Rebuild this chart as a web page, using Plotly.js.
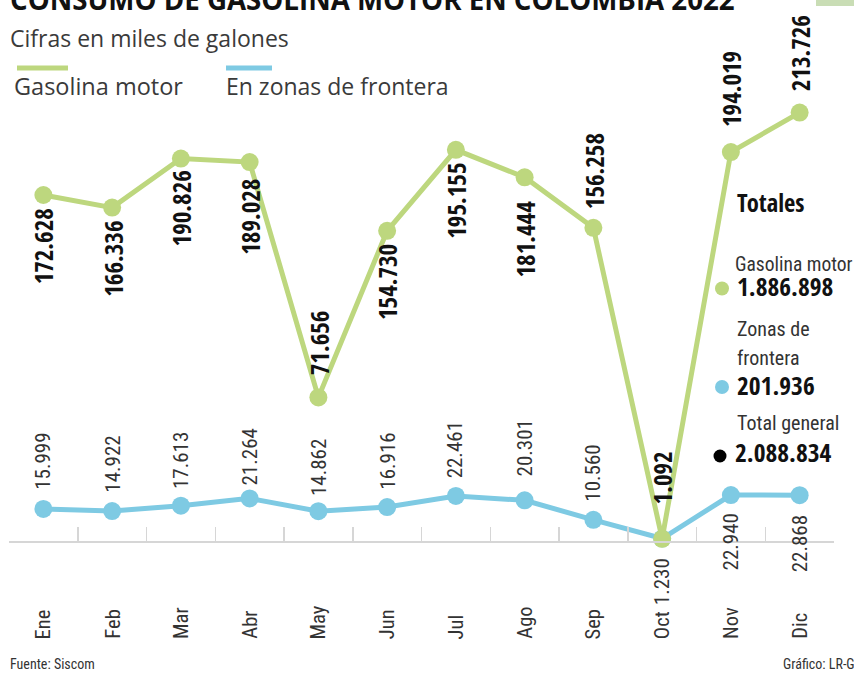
<!DOCTYPE html>
<html>
<head>
<meta charset="utf-8">
<script src="https://cdn.plot.ly/plotly-3.0.1.min.js"></script>
<style>
html,body{margin:0;padding:0;background:#fff;}
</style>
</head>
<body>
<div id="chart" style="width:854px;height:673px"></div>
<script>
// ---------- DATA ----------
const months = ['Ene','Feb','Mar','Abr','May','Jun','Jul','Ago','Sep','Oct','Nov','Dic'];
const gasolinaMotor = [172.628,166.336,190.826,189.028,71.656,154.730,195.155,181.444,156.258,1.092,194.019,213.726];
const zonasFrontera = [15.999,14.922,17.613,21.264,14.862,16.916,22.461,20.301,10.560,1.230,22.940,22.868];
const seriesNames = ['Gasolina motor','En zonas de frontera'];

// ---------- LABEL PLACEMENT (not data) ----------
const greenSide = ['below','below','below','below','above','below','below','below','above','above','above','above'];
const greenGap  = [11,11,10,15,20,11,11,21,17,32,23,19];
const blueSide  = ['above','above','above','above','above','above','above','above','above','below','below','below'];
const blueGap   = [17,16,15,11,13,15,16,22,16,18,16,18];

// ---------- STYLE ----------
const GREEN = '#bdd77e';
const BLUE = '#7ecae3';
const SANS = '"Open Sans", sans-serif';
const CONDB = '"Open Sans Condensed", "Roboto Condensed", sans-serif';
const CONDR = '"Roboto Condensed", "Open Sans Condensed Light", sans-serif';
const W = 854, H = 673, ML = 9, MR = 20, MT = 80, MB = 132;
const PW = W - ML - MR, PH = H - MT - MB;
const px = x => (x - ML) / PW;
const py = y => (H - MB - y) / PH;

function fmtThousands(v) {
  const n = Math.round(v * 1000);
  return n.toString().replace(/\B(?=(\d{3})+(?!\d))/g, '.');
}
const sum = a => a.reduce((s, v) => s + v, 0);
const totalGas = sum(gasolinaMotor), totalFront = sum(zonasFrontera);

const annotations = [];
function textAt(text, x, baseline, size, opts = {}) {
  const family = opts.family || CONDR;
  const desc = family === CONDR ? 0.244 : 0.293;
  annotations.push({
    text: text, xref: 'paper', yref: 'paper', x: px(x), y: py(baseline + desc * size + 1),
    xanchor: 'left', yanchor: 'bottom', showarrow: false, align: 'left',
    font: {family: family, size: size, color: opts.color || '#333', weight: opts.weight || 'normal'}
  });
}

// green value labels
gasolinaMotor.forEach((v, i) => {
  const below = greenSide[i] === 'below';
  annotations.push({
    x: months[i], y: v, xref: 'x', yref: 'y', text: v.toFixed(3), textangle: -90, showarrow: false,
    xanchor: 'center', yanchor: below ? 'top' : 'bottom', yshift: below ? -greenGap[i] : greenGap[i],
    font: {family: CONDB, size: 25, color: '#111', weight: 'bold'}
  });
});
// blue value labels
zonasFrontera.forEach((v, i) => {
  const below = blueSide[i] === 'below';
  annotations.push({
    x: months[i], y: v, xref: 'x', yref: 'y', text: v.toFixed(3), textangle: -90, showarrow: false,
    xanchor: 'center', yanchor: below ? 'top' : 'bottom', yshift: below ? -blueGap[i] : blueGap[i],
    font: {family: CONDR, size: 21, color: '#333'}
  });
});
// month labels
months.forEach(m => {
  annotations.push({
    x: m, xref: 'x', yref: 'paper', y: py(641), text: m, textangle: -90, showarrow: false,
    xanchor: 'center', yanchor: 'bottom', font: {family: CONDR, size: 20.5, color: '#333'}
  });
});

// title, subtitle, legend
textAt('CONSUMO DE GASOLINA MOTOR EN COLOMBIA 2022', 8, 11, 27.7, {family: SANS, weight: 'bold', color: '#111'});
textAt('Cifras en miles de galones', 8, 48, 23, {family: SANS, color: '#3a3a3a'});
textAt(seriesNames[0], 12, 96, 23.5, {family: SANS, color: '#3a3a3a'});
textAt(seriesNames[1], 224, 96, 23, {family: SANS, color: '#3a3a3a'});

// totals block
textAt('Totales', 735, 213, 24.5, {family: CONDB, weight: 'bold', color: '#111'});
textAt('Gasolina motor', 733, 272, 19.5);
textAt(fmtThousands(totalGas), 735, 297, 25.5, {family: CONDB, weight: 'bold', color: '#111'});
textAt('Zonas de', 735, 337, 20);
textAt('frontera', 735, 366, 20);
textAt(fmtThousands(totalFront), 735, 396, 25.5, {family: CONDB, weight: 'bold', color: '#111'});
textAt('Total general', 735, 431, 20);
textAt(fmtThousands(totalGas + totalFront), 733, 463, 25.5, {family: CONDB, weight: 'bold', color: '#111'});

// footer
textAt('Fuente: Siscom', 8, 670, 14);
textAt('Gráfico: LR-GR', 781, 670, 14);

const dot = (cx, cy, r, color) => ({
  type: 'circle', xref: 'paper', yref: 'paper', xsizemode: 'pixel', ysizemode: 'pixel',
  xanchor: px(cx), yanchor: py(cy), x0: -r, x1: r, y0: -r, y1: r,
  fillcolor: color, line: {width: 0}
});
const shapes = [
  {type: 'line', xref: 'paper', yref: 'paper', x0: px(17), x1: px(68), y0: py(68), y1: py(68), line: {color: GREEN, width: 5}},
  {type: 'line', xref: 'paper', yref: 'paper', x0: px(226), x1: px(272), y0: py(68), y1: py(68), line: {color: BLUE, width: 5}},
  {type: 'rect', xref: 'paper', yref: 'paper', x0: px(816), x1: px(860), y0: py(-2), y1: py(6), fillcolor: '#c9ddb5', line: {width: 0}},
  dot(722, 288.5, 7, GREEN),
  dot(722, 387, 7, BLUE),
  dot(720, 456, 6.5, '#000')
];

const traces = [
  {x: months, y: zonasFrontera, name: seriesNames[1], type: 'scatter', mode: 'lines+markers',
   line: {color: BLUE, width: 5}, marker: {color: BLUE, size: 18}, cliponaxis: false, hoverinfo: 'skip'},
  {x: months, y: gasolinaMotor, name: seriesNames[0], type: 'scatter', mode: 'lines+markers',
   line: {color: GREEN, width: 5}, marker: {color: GREEN, size: 18}, cliponaxis: false, hoverinfo: 'skip'}
];

const layout = {
  width: W, height: H, margin: {l: ML, r: MR, t: MT, b: MB, pad: 0},
  paper_bgcolor: '#fff', plot_bgcolor: '#fff', showlegend: false,
  xaxis: {type: 'category', categoryorder: 'array', categoryarray: months, range: [-0.5, 11.5],
    showline: true, linecolor: '#d6d6d6', linewidth: 2, ticks: 'inside', ticklen: 14, tickwidth: 1.5,
    tickcolor: '#d6d6d6', tickson: 'boundaries', showticklabels: false, showgrid: false, zeroline: false, fixedrange: true},
  yaxis: {range: [0, 230], visible: false, showgrid: false, zeroline: false, fixedrange: true},
  annotations: annotations, shapes: shapes
};

Plotly.newPlot('chart', traces, layout, {displayModeBar: false, staticPlot: true});
</script>
</body>
</html>
